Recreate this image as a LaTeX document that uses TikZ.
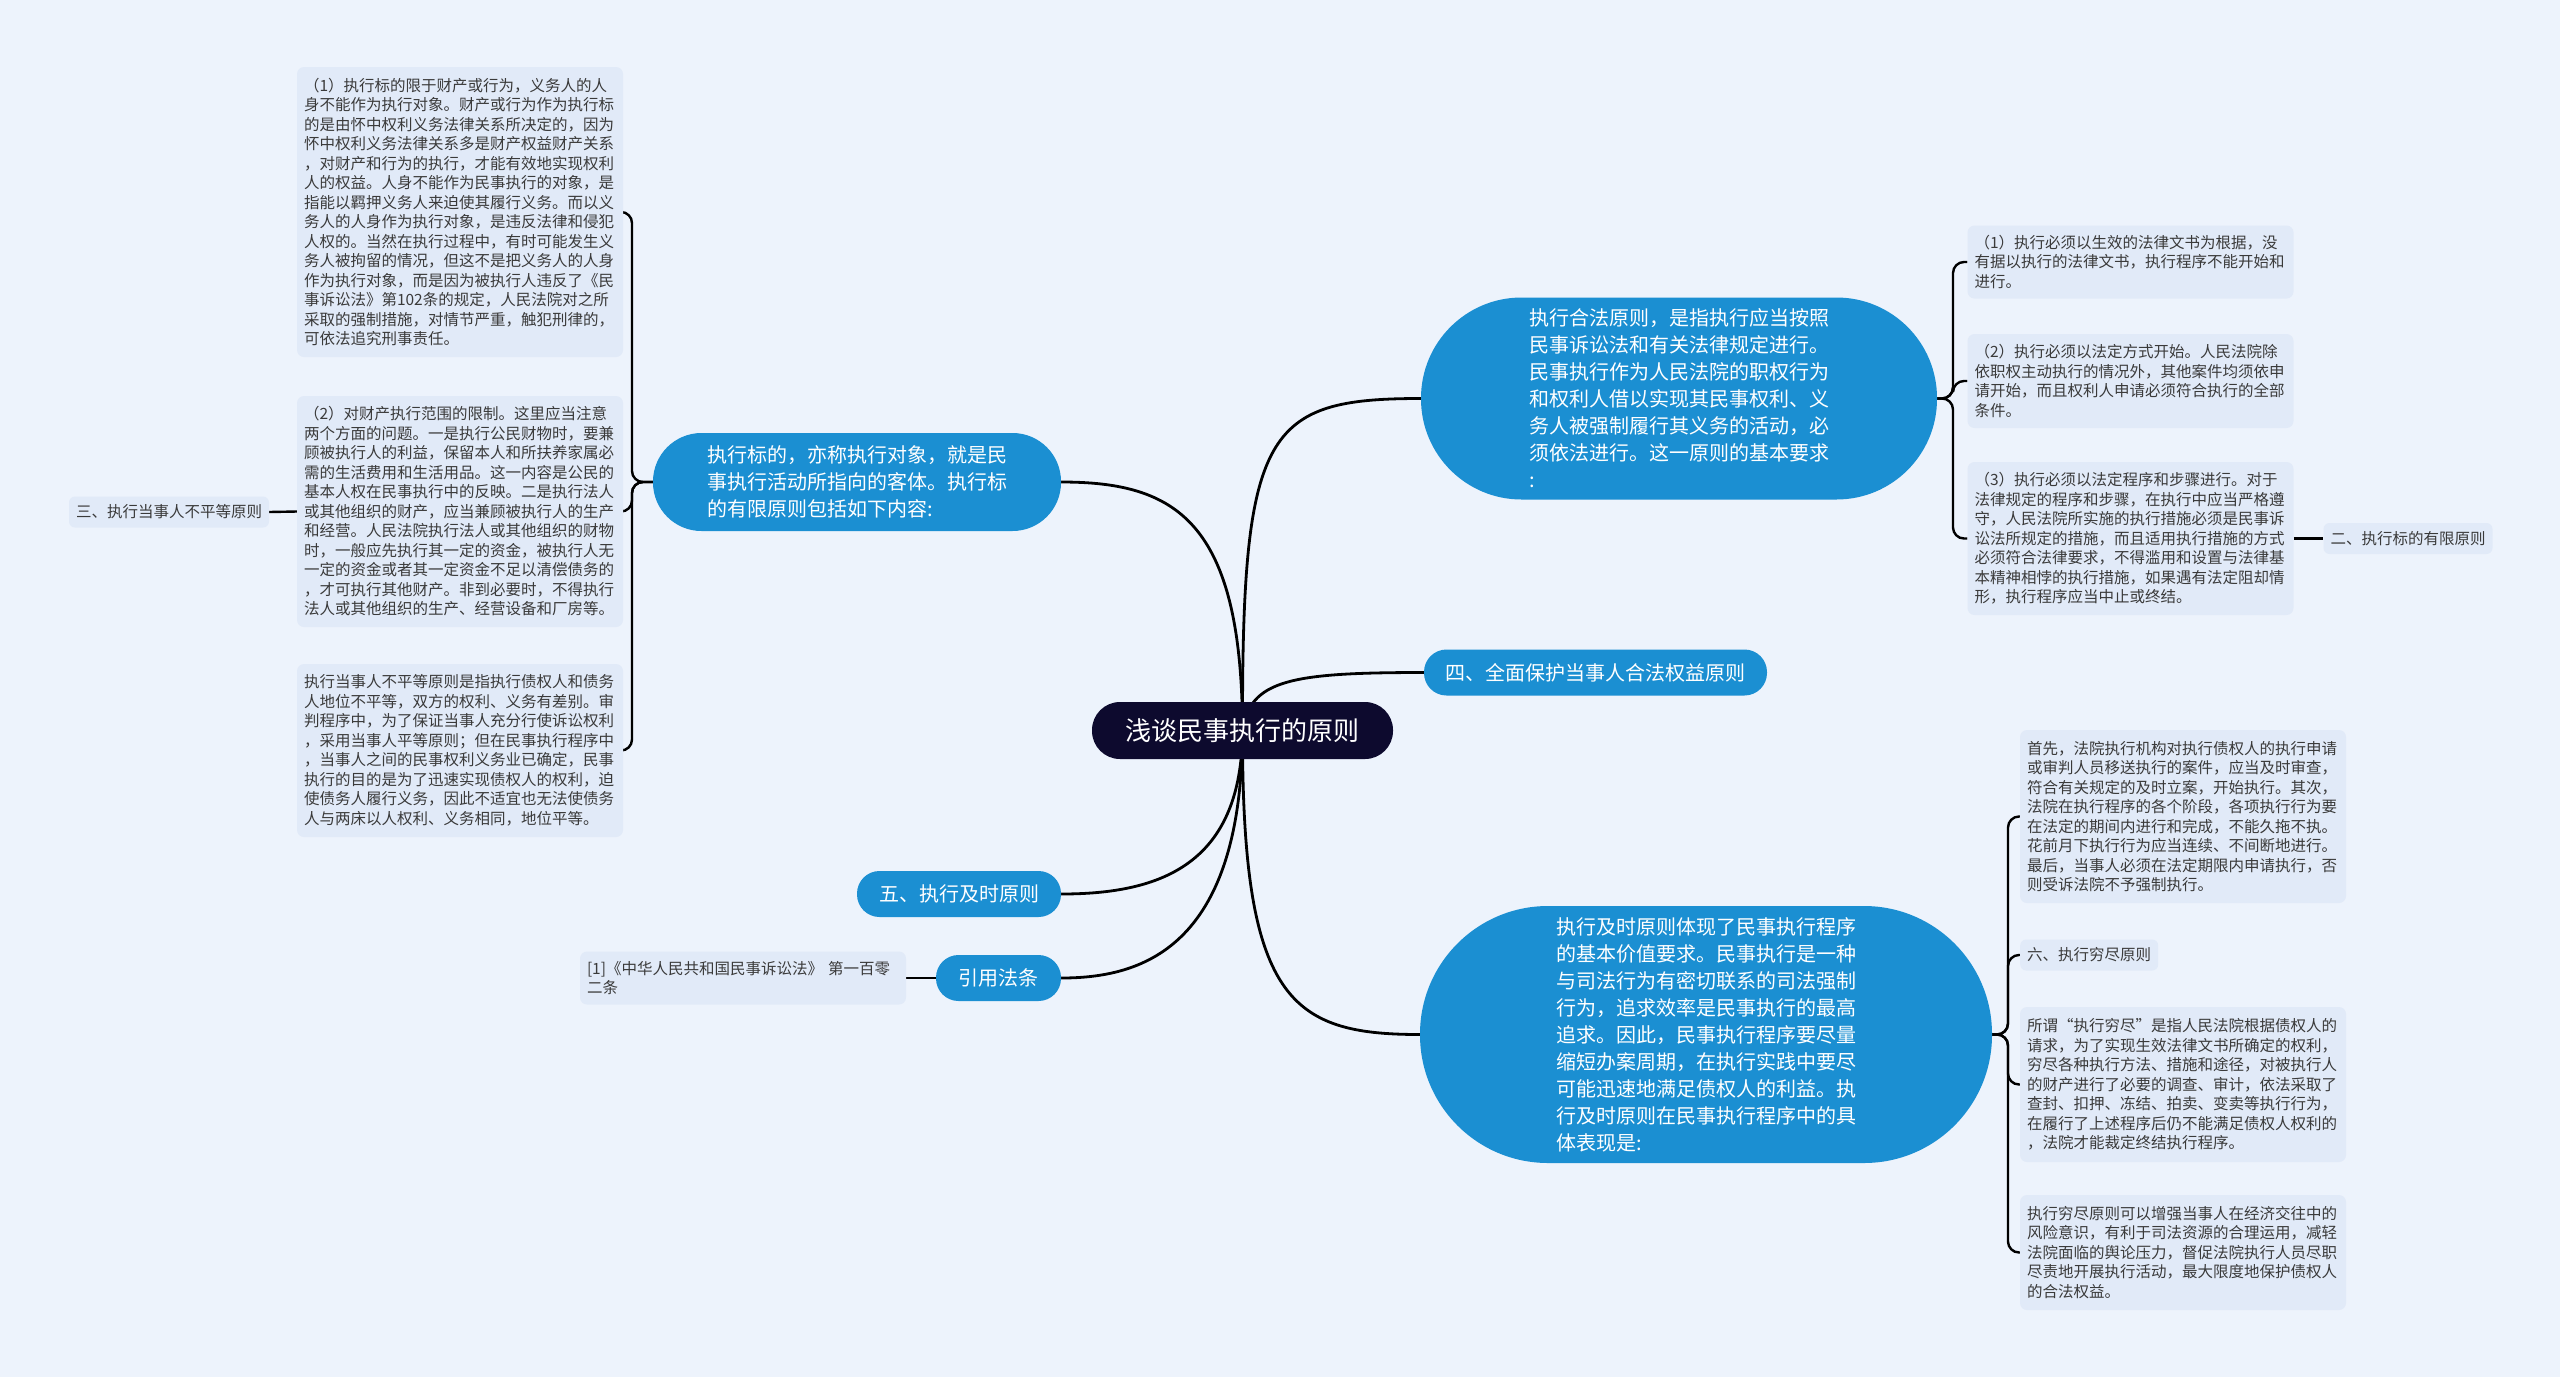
\documentclass[tikz,border=0pt]{standalone}
\usepackage{fontspec}
\setmainfont{Noto Sans CJK SC}
\definecolor{bgc}{HTML}{EDF3FC}
\definecolor{leafc}{HTML}{E1EAF8}
\definecolor{pillc}{HTML}{1B8FD2}
\definecolor{rootc}{HTML}{0D0A2E}
\definecolor{txtc}{HTML}{3A3A3A}
\pgfdeclarelayer{bglayer}
\pgfsetlayers{bglayer,main}
\tikzset{
  pill/.style={fill=pillc, text=white, align=left, inner sep=0pt, font=\fontsize{20}{27}\selectfont},
  leaf/.style={fill=leafc, text=txtc, align=left, rounded corners=7pt, text width=312pt, inner xsep=7pt, inner ysep=0pt, font=\fontsize{15.5}{19.5}\selectfont},
  tag/.style={fill=leafc, text=txtc, rounded corners=6pt, inner xsep=7pt, inner ysep=0pt, minimum height=31pt, font=\fontsize{15.5}{19.5}\selectfont},
  rootconn/.style={draw=black, line width=2.8pt},
  brconn/.style={draw=black, line width=2.4pt, rounded corners=11pt},
}
\begin{document}
\begin{tikzpicture}[x=1pt,y=-1pt]
\useasboundingbox (0,0) rectangle (2560,1377);
\begin{pgfonlayer}{bglayer}
\fill[bgc] (0,0) rectangle (2560,1377);
\end{pgfonlayer}

% root
\node[fill=rootc, text=white, rounded corners=28pt, minimum width=301pt, minimum height=57pt, inner sep=0pt, font=\fontsize{26}{30}\selectfont] (root) at (1242.5,730.5) {浅谈民事执行的原则};

% main branches
\node[pill, rounded corners=48.5pt, minimum width=408pt, minimum height=98pt] (b1) at (857,482) {执行标的，亦称执行对象，就是民\\事执行活动所指向的客体。执行标\\的有限原则包括如下内容:};
\node[pill, rounded corners=100.5pt, minimum width=516pt, minimum height=202pt] (b2) at (1679,398.5) {执行合法原则，是指执行应当按照\\民事诉讼法和有关法律规定进行。\\民事执行作为人民法院的职权行为\\和权利人借以实现其民事权利、义\\务人被强制履行其义务的活动，必\\须依法进行。这一原则的基本要求\\:};
\node[pill, rounded corners=22.5pt, minimum width=343pt, minimum height=46pt] (b3) at (1595.5,672.5) {四、全面保护当事人合法权益原则};
\node[pill, rounded corners=128pt, minimum width=572pt, minimum height=257pt] (b4) at (1706,1034.5) {执行及时原则体现了民事执行程序\\的基本价值要求。民事执行是一种\\与司法行为有密切联系的司法强制\\行为，追求效率是民事执行的最高\\追求。因此，民事执行程序要尽量\\缩短办案周期，在执行实践中要尽\\可能迅速地满足债权人的利益。执\\行及时原则在民事执行程序中的具\\体表现是:};
\node[pill, rounded corners=22.5pt, minimum width=204pt, minimum height=46pt] (b5) at (959,894) {五、执行及时原则};
\node[pill, rounded corners=22.5pt, minimum width=125pt, minimum height=46pt] (b6) at (998.5,978) {引用法条};

% left leaves
\node[leaf, minimum height=290pt] (L1) at (460,212) {（1）执行标的限于财产或行为，义务人的人\\身不能作为执行对象。财产或行为作为执行标\\的是由怀中权利义务法律关系所决定的，因为\\怀中权利义务法律关系多是财产权益财产关系\\，对财产和行为的执行，才能有效地实现权利\\人的权益。人身不能作为民事执行的对象，是\\指能以羁押义务人来迫使其履行义务。而以义\\务人的人身作为执行对象，是违反法律和侵犯\\人权的。当然在执行过程中，有时可能发生义\\务人被拘留的情况，但这不是把义务人的人身\\作为执行对象，而是因为被执行人违反了《民\\事诉讼法》第102条的规定，人民法院对之所\\采取的强制措施，对情节严重，触犯刑律的，\\可依法追究刑事责任。};
\node[leaf, minimum height=231pt] (L2) at (460,511.5) {（2）对财产执行范围的限制。这里应当注意\\两个方面的问题。一是执行公民财物时，要兼\\顾被执行人的利益，保留本人和所扶养家属必\\需的生活费用和生活用品。这一内容是公民的\\基本人权在民事执行中的反映。二是执行法人\\或其他组织的财产，应当兼顾被执行人的生产\\和经营。人民法院执行法人或其他组织的财物\\时，一般应先执行其一定的资金，被执行人无\\一定的资金或者其一定资金不足以清偿债务的\\，才可执行其他财产。非到必要时，不得执行\\法人或其他组织的生产、经营设备和厂房等。};
\node[leaf, minimum height=173pt] (L3) at (460,750.5) {执行当事人不平等原则是指执行债权人和债务\\人地位不平等，双方的权利、义务有差别。审\\判程序中，为了保证当事人充分行使诉讼权利\\，采用当事人平等原则；但在民事执行程序中\\，当事人之间的民事权利义务业已确定，民事\\执行的目的是为了迅速实现债权人的权利，迫\\使债务人履行义务，因此不适宜也无法使债务\\人与两床以人权利、义务相同，地位平等。};
\node[tag] (lab3) at (169,512) {三、执行当事人不平等原则};
\node[leaf, minimum height=53pt] (ref) at (743,978) {[1]《中华人民共和国民事诉讼法》 第一百零\\二条};

% right leaves of b2
\node[leaf, minimum height=73pt] (R1) at (2130.5,262) {（1）执行必须以生效的法律文书为根据，没\\有据以执行的法律文书，执行程序不能开始和\\进行。};
\node[leaf, minimum height=94pt] (R2) at (2130.5,381) {（2）执行必须以法定方式开始。人民法院除\\依职权主动执行的情况外，其他案件均须依申\\请开始，而且权利人申请必须符合执行的全部\\条件。};
\node[leaf, minimum height=153pt] (R3) at (2130.5,538.5) {（3）执行必须以法定程序和步骤进行。对于\\法律规定的程序和步骤，在执行中应当严格遵\\守，人民法院所实施的执行措施必须是民事诉\\讼法所规定的措施，而且适用执行措施的方式\\必须符合法律要求，不得滥用和设置与法律基\\本精神相悖的执行措施，如果遇有法定阻却情\\形，执行程序应当中止或终结。};
\node[tag] (lab2) at (2408,538.5) {二、执行标的有限原则};

% right leaves of b4
\node[leaf, minimum height=173pt] (C1) at (2183,816.5) {首先，法院执行机构对执行债权人的执行申请\\或审判人员移送执行的案件，应当及时审查，\\符合有关规定的及时立案，开始执行。其次，\\法院在执行程序的各个阶段，各项执行行为要\\在法定的期间内进行和完成，不能久拖不执。\\花前月下执行行为应当连续、不间断地进行。\\最后，当事人必须在法定期限内申请执行，否\\则受诉法院不予强制执行。};
\node[tag, anchor=west] (C2) at (2020,955) {六、执行穷尽原则};
\node[leaf, minimum height=155pt] (C3) at (2183,1084.5) {所谓“执行穷尽”是指人民法院根据债权人的\\请求，为了实现生效法律文书所确定的权利，\\穷尽各种执行方法、措施和途径，对被执行人\\的财产进行了必要的调查、审计，依法采取了\\查封、扣押、冻结、拍卖、变卖等执行行为，\\在履行了上述程序后仍不能满足债权人权利的\\，法院才能裁定终结执行程序。};
\node[leaf, minimum height=115pt] (C4) at (2183,1252.5) {执行穷尽原则可以增强当事人在经济交往中的\\风险意识，有利于司法资源的合理运用，减轻\\法院面临的舆论压力，督促法院执行人员尽职\\尽责地开展执行活动，最大限度地保护债权人\\的合法权益。};

\begin{pgfonlayer}{bglayer}
% root connectors
\draw[rootconn] (root.center) .. controls (1242,520) and (1175,482) .. (b1.east);
\draw[rootconn] (root.center) .. controls (1242,430) and (1265,398.5) .. (b2.west);
\draw[rootconn] (root.center) .. controls (1250,680) and (1290,672.5) .. (b3.west);
\draw[rootconn] (root.center) .. controls (1242,1000) and (1290,1034.5) .. (b4.west);
\draw[rootconn] (root.center) .. controls (1242,865) and (1160,894) .. (b5.east);
\draw[rootconn] (root.center) .. controls (1242,950) and (1140,978) .. (b6.east);
% left bracket
\draw[brconn] (b1.west) -- (632,482) |- (L1.east);
\draw[brconn] (b1.west) -- (632,482) |- (L2.east);
\draw[brconn] (b1.west) -- (632,482) |- (L3.east);
\draw[brconn] (L2.west) -- (lab3.east);
\draw[brconn] (b6.west) -- (ref.east);
% right bracket b2
\draw[brconn] (b2.east) -- (1953,398.5) |- (R1.west);
\draw[brconn] (b2.east) -- (1953,398.5) |- (R2.west);
\draw[brconn] (b2.east) -- (1953,398.5) |- (R3.west);
\draw[brconn] (R3.east) -- (lab2.west);
% right bracket b4
\draw[brconn] (b4.east) -- (2008,1034.5) |- (C1.west);
\draw[brconn] (b4.east) -- (2008,1034.5) |- (C2.west);
\draw[brconn] (b4.east) -- (2008,1034.5) |- (C3.west);
\draw[brconn] (b4.east) -- (2008,1034.5) |- (C4.west);
\end{pgfonlayer}
\end{tikzpicture}
\end{document}
